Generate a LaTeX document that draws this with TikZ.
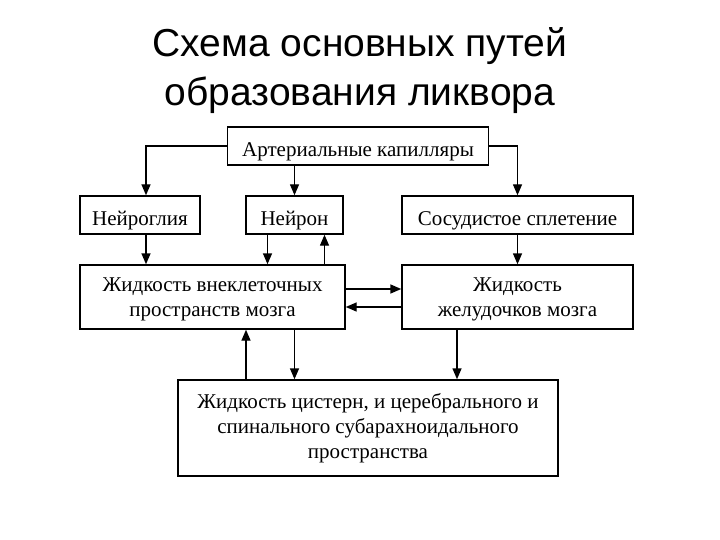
\documentclass[tikz,border=0pt]{standalone}
\usepackage{fontspec}
\setmainfont{Liberation Serif}
\newfontfamily\titlefont{Liberation Sans}
\usetikzlibrary{arrows.meta}
\tikzset{
  blk/.style={draw, line width=1.4pt, align=center, inner sep=2pt, font=\fontsize{21}{25}\selectfont,
    execute at begin node={\rule{0pt}{25pt}}},
  twoline/.style={text depth=-11pt},
  arr/.style={line width=1.4pt, -{Triangle[length=11pt,width=9pt]}}
}

\begin{document}
\begin{tikzpicture}[x=1pt, y=-1pt]
\useasboundingbox (0,0) rectangle (720,540);
\node[font=\titlefont\fontsize{39}{49}\selectfont, align=center] (title) at (360,71) {Схема основных путей\\образования ликвора};
% boxes
\node[blk, minimum width=261pt, minimum height=38pt] (art) at (358,146) {Артериальные капилляры};
\node[blk, minimum width=120pt, minimum height=38pt] (glia) at (140,215) {Нейроглия};
\node[blk, minimum width=97pt, minimum height=38pt] (neuron) at (294.5,215) {Нейрон};
\node[blk, minimum width=231pt, minimum height=38pt] (plex) at (517.5,215) {Сосудистое сплетение};
\node[blk, twoline, minimum width=265pt, minimum height=64pt] (ecf) at (212.5,297) {Жидкость внеклеточных\\пространств мозга};
\node[blk, twoline, minimum width=231pt, minimum height=64pt] (vent) at (517.5,297) {Жидкость\\желудочков мозга};
\node[blk, minimum width=380pt, minimum height=96pt] (cist) at (368,428) {Жидкость цистерн, и церебрального и\\спинального субарахноидального\\пространства};
% arrows
\draw[arr] (art.west) -| ([xshift=6pt]glia.north);
\draw[arr] (neuron.north |- art.south) -- (neuron.north);
\draw[arr] (art.east) -| (plex.north);
\draw[arr] ([xshift=6pt]glia.south) -- ([xshift=6pt]glia.south |- ecf.north);
\draw[arr] ([xshift=-27pt]neuron.south) -- ([xshift=-27pt]neuron.south |- ecf.north);
\draw[arr] ([xshift=30pt]neuron.south |- ecf.north) -- ([xshift=30pt]neuron.south);
\draw[arr] (plex.south) -- (vent.north);
\draw[arr] ([yshift=8pt]ecf.east) -- ([yshift=8pt]vent.west);
\draw[arr] ([yshift=-10pt]vent.west) -- ([yshift=-10pt]ecf.east);
\draw[arr] ([xshift=82pt]ecf.south) -- ([xshift=82pt]ecf.south |- cist.north);
\draw[arr] ([xshift=33.5pt]ecf.south |- cist.north) -- ([xshift=33.5pt]ecf.south);
\draw[arr] ([xshift=-60.5pt]vent.south) -- ([xshift=-60.5pt]vent.south |- cist.north);
\end{tikzpicture}
\end{document}
